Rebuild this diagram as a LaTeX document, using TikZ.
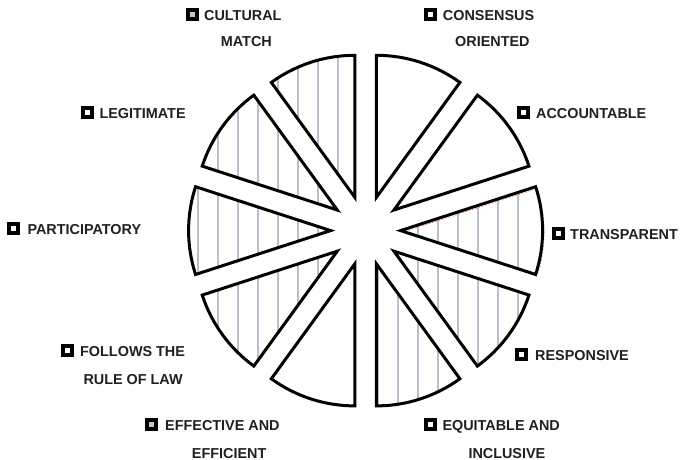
\documentclass[tikz,border=0pt]{standalone}
\usepackage{fontspec}
\setmainfont{Liberation Sans}
\usetikzlibrary{calc}
\definecolor{txt}{HTML}{231F20}
\definecolor{hatchc}{HTML}{B9BFCB}
\definecolor{orng}{HTML}{F2A07E}
\newcommand\wedgeshape[1]{($(C)+(#1:35)$) -- ++(#1-18:142) arc[start angle=#1-18, end angle=#1+18, radius=142] -- cycle}
\begin{document}
\begin{tikzpicture}[x=1pt,y=1pt,
  wedge/.style={draw=black, line width=3pt, line join=miter},
  hatch/.style={draw=hatchc, line width=1.4pt},
  lbl/.style={anchor=base west, inner sep=0pt, font=\fontsize{14.4}{16}\selectfont\bfseries, text=txt},
  icon/.style={draw=black, fill=white, line width=4pt, minimum size=9pt, inner sep=0pt},
  gicon/.style={icon, fill=gray!45}]
\useasboundingbox (0,0) rectangle (681,-460);
\fill[white] (0,0) rectangle (681,-460);
\coordinate (C) at (365.6,-230.6);

% hatching
\foreach \b in {108,144,180,216,288,324,0}{
  \begin{scope}
    \clip \wedgeshape{\b};
    \foreach \x in {198,218,...,518} \draw[hatch] (\x,0) -- (\x,-460);
  \end{scope}
}
% orange offset stroke of the transparent wedge
\draw[orng, line width=0.9pt, dash pattern=on 1.5pt off 2pt]
  ($(C)+(0:35)+(1.5,-1.8)$) -- ++(18:142) arc[start angle=18, end angle=-18, radius=142];
% outlines
\foreach \b in {0,36,...,324} \draw[wedge] \wedgeshape{\b};

% labels
\node[gicon] (i1) at (192,-14.5) {};
\node[lbl] (t1a) at (204,-20.7) {CULTURAL};
\node[lbl] (t1b) at (220.7,-46.7) {MATCH};

\node[icon] (i2) at (430,-14.5) {};
\node[lbl] (t2a) at (442.7,-20.7) {CONSENSUS};
\node[lbl] (t2b) at (455,-46.7) {ORIENTED};

\node[icon] (i3) at (87,-113) {};
\node[lbl] (t3) at (99.3,-119) {LEGITIMATE};

\node[icon] (i4) at (523.3,-113) {};
\node[lbl] (t4) at (536,-119) {ACCOUNTABLE};

\node[icon] (i5) at (13.8,-228.5) {};
\node[lbl] (t5) at (27.3,-234.3) {PARTICIPATORY};

\node[icon] (i6) at (558,-233.5) {};
\node[lbl] (t6) at (570,-239.2) {TRANSPARENT};

\node[icon] (i7) at (67.3,-350.8) {};
\node[lbl] (t7a) at (80,-356.7) {FOLLOWS THE};
\node[lbl] (t7b) at (83.3,-384) {RULE OF LAW};

\node[icon] (i8) at (521.7,-354.8) {};
\node[lbl] (t8) at (535,-360.7) {RESPONSIVE};

\node[gicon] (i9) at (151.7,-424.8) {};
\node[lbl] (t9a) at (165,-430.7) {EFFECTIVE AND};
\node[lbl] (t9b) at (191.7,-458.3) {EFFICIENT};

\node[icon] (i10) at (430,-424.8) {};
\node[lbl] (t10a) at (442.3,-430.7) {EQUITABLE AND};
\node[lbl] (t10b) at (468.3,-458.3) {INCLUSIVE};
\end{tikzpicture}
\end{document}
